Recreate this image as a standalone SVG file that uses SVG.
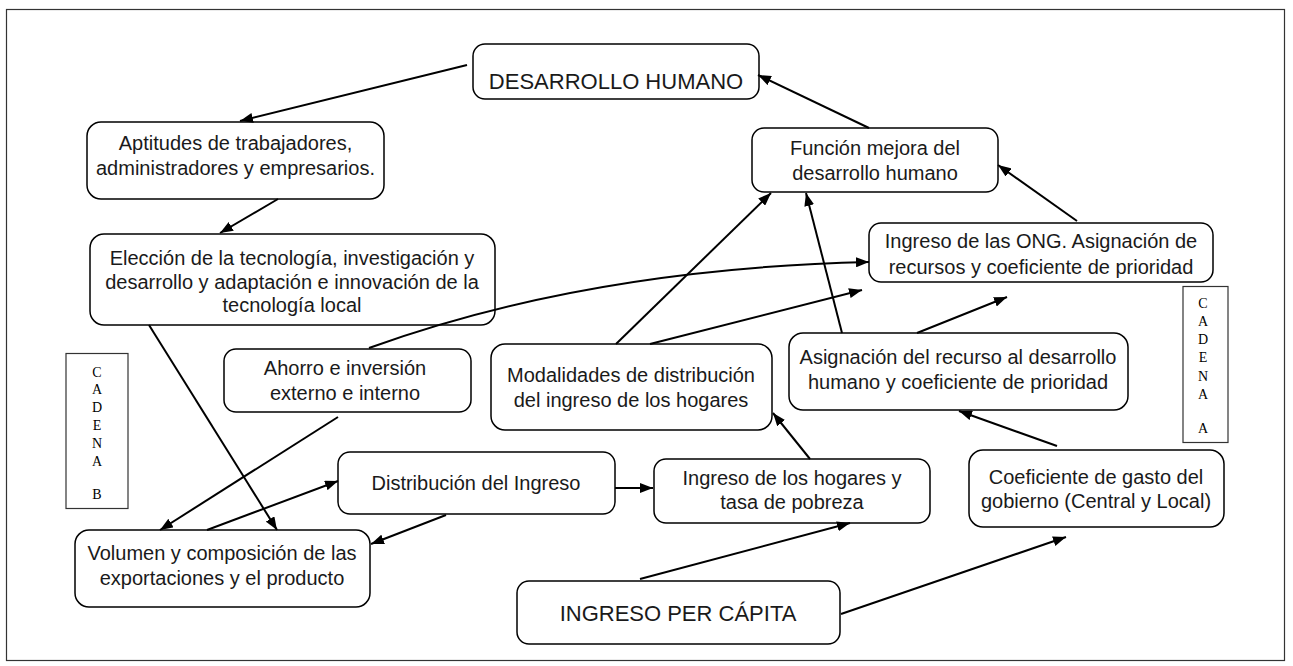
<svg xmlns="http://www.w3.org/2000/svg" width="1293" height="666" viewBox="0 0 1293 666">
<defs>
<marker id="ah" markerUnits="userSpaceOnUse" markerWidth="14" markerHeight="10" refX="13" refY="5" orient="auto">
<path d="M0,0 L13,5 L0,10 z" fill="#000"/>
</marker>
<style>
.box{fill:none;stroke:#000;stroke-width:1.5}
.t{font-family:"Liberation Sans",Arial,sans-serif;font-size:20px;fill:#1a1a1a;text-anchor:middle}
.big{font-size:22px}
.cad{font-family:"Liberation Serif","Times New Roman",serif;font-size:14px;fill:#000;text-anchor:middle}
.c{fill:none;stroke:#000;stroke-width:2;marker-end:url(#ah)}
</style>
</defs>
<rect x="0" y="0" width="1293" height="666" fill="#fff"/>
<rect x="6.5" y="9.5" width="1278" height="651" fill="none" stroke="#333" stroke-width="1.2"/>

<g id="connectors">
<line class="c" x1="467" y1="65" x2="240" y2="121"/>
<line class="c" x1="278" y1="199" x2="220" y2="233"/>
<line class="c" x1="869" y1="128" x2="758" y2="75"/>
<line class="c" x1="1077" y1="221" x2="998" y2="165"/>
<path class="c" d="M369,348 C460,315 620,268 869,262"/>
<line class="c" x1="616" y1="344" x2="771" y2="193"/>
<line class="c" x1="650" y1="344" x2="862" y2="290"/>
<line class="c" x1="842" y1="333" x2="806" y2="193"/>
<line class="c" x1="917" y1="333" x2="1007" y2="297"/>
<line class="c" x1="1057" y1="446" x2="959" y2="411"/>
<line class="c" x1="810" y1="459" x2="773" y2="413"/>
<line class="c" x1="615" y1="488" x2="653" y2="488"/>
<line class="c" x1="446" y1="515" x2="371" y2="544"/>
<line class="c" x1="207" y1="530" x2="338" y2="481"/>
<line class="c" x1="338" y1="417" x2="160" y2="530"/>
<line class="c" x1="149" y1="325" x2="277" y2="530"/>
<line class="c" x1="640" y1="579" x2="850" y2="523"/>
<line class="c" x1="841" y1="614" x2="1066" y2="537"/>
</g>

<g id="n-desarrollo">
<rect class="box" x="473" y="44" width="286" height="55" rx="12"/>
<text class="t big" x="616" y="89">DESARROLLO HUMANO</text>
</g>
<g id="n-aptitudes">
<rect class="box" x="87" y="122" width="297" height="77" rx="14"/>
<text class="t" x="235.5" y="150">Aptitudes de trabajadores,</text>
<text class="t" x="235.5" y="175">administradores y empresarios.</text>
</g>
<g id="n-eleccion">
<rect class="box" x="90" y="234" width="405" height="91" rx="14"/>
<text class="t" x="292" y="265">Elección de la tecnología, investigación y</text>
<text class="t" x="292" y="289">desarrollo y adaptación e innovación de la</text>
<text class="t" x="292" y="312">tecnología local</text>
</g>
<g id="n-funcion">
<rect class="box" x="752" y="128" width="246" height="64" rx="12"/>
<text class="t" x="875" y="155">Función mejora del</text>
<text class="t" x="875" y="180">desarrollo humano</text>
</g>
<g id="n-ong">
<rect class="box" x="869" y="223" width="344" height="59" rx="12"/>
<text class="t" x="1041" y="248">Ingreso de las ONG. Asignación de</text>
<text class="t" x="1041" y="274">recursos y coeficiente de prioridad</text>
</g>
<g id="n-cadena-a">
<rect x="1183" y="286.5" width="45" height="156" fill="none" stroke="#333" stroke-width="1.2"/>
<text class="cad" x="1203" y="308">C</text>
<text class="cad" x="1203" y="326">A</text>
<text class="cad" x="1203" y="344">D</text>
<text class="cad" x="1203" y="362">E</text>
<text class="cad" x="1203" y="381">N</text>
<text class="cad" x="1203" y="399">A</text>
<text class="cad" x="1203" y="433">A</text>
</g>
<g id="n-cadena-b">
<rect x="66" y="353.5" width="62" height="155" fill="none" stroke="#333" stroke-width="1.2"/>
<text class="cad" x="97" y="377">C</text>
<text class="cad" x="97" y="394">A</text>
<text class="cad" x="97" y="412">D</text>
<text class="cad" x="97" y="430">E</text>
<text class="cad" x="97" y="448">N</text>
<text class="cad" x="97" y="466">A</text>
<text class="cad" x="97" y="499">B</text>
</g>
<g id="n-ahorro">
<rect class="box" x="224" y="349" width="247" height="63" rx="12"/>
<text class="t" x="345" y="375">Ahorro e inversión</text>
<text class="t" x="345" y="400">externo e interno</text>
</g>
<g id="n-modalidades">
<rect class="box" x="491" y="344" width="281" height="86" rx="14"/>
<text class="t" x="631" y="382">Modalidades de distribución</text>
<text class="t" x="631" y="407">del ingreso de los hogares</text>
</g>
<g id="n-asignacion">
<rect class="box" x="789" y="333" width="339" height="77" rx="14"/>
<text class="t" x="958" y="364">Asignación del recurso al desarrollo</text>
<text class="t" x="958" y="389">humano y coeficiente de prioridad</text>
</g>
<g id="n-distribucion">
<rect class="box" x="338" y="452" width="277" height="62" rx="12"/>
<text class="t" x="476" y="490">Distribución del Ingreso</text>
</g>
<g id="n-hogares">
<rect class="box" x="654" y="459" width="276" height="64" rx="12"/>
<text class="t" x="792" y="485">Ingreso de los hogares y</text>
<text class="t" x="792" y="509">tasa de pobreza</text>
</g>
<g id="n-coeficiente">
<rect class="box" x="969" y="450" width="255" height="77" rx="14"/>
<text class="t" x="1096" y="484">Coeficiente de gasto del</text>
<text class="t" x="1096" y="508">gobierno (Central y Local)</text>
</g>
<g id="n-volumen">
<rect class="box" x="75" y="530" width="295" height="77" rx="14"/>
<text class="t" x="222" y="560">Volumen y composición de las</text>
<text class="t" x="222" y="585">exportaciones y el producto</text>
</g>
<g id="n-ingreso-pc">
<rect class="box" x="517" y="581" width="323" height="63" rx="12"/>
<text class="t big" x="678" y="621">INGRESO PER CÁPITA</text>
</g>
</svg>
